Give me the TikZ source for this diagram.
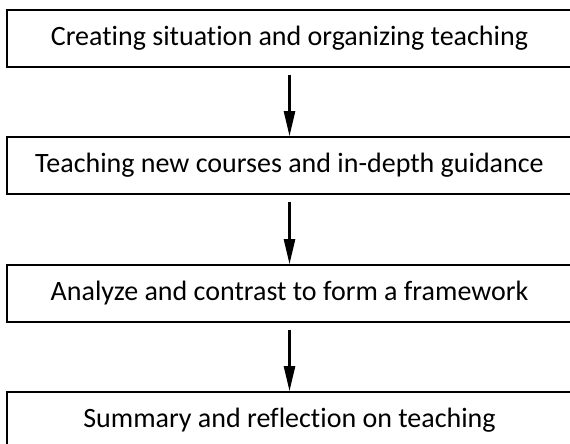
\documentclass[tikz,border=0pt]{standalone}
\usepackage{fontspec}
\setmainfont[Ligatures=NoCommon]{Carlito}
\usetikzlibrary{arrows.meta,positioning}

\begin{document}
\begin{tikzpicture}[x=1pt,y=-1pt,
  stepbox/.style={rectangle,draw=black,line width=1.6pt,minimum width=565pt,
                  minimum height=57pt,inner sep=0pt,text centered,
                  font=\fontsize{28}{32}\selectfont},
  flow/.style={-{Triangle[length=25pt,width=11pt]},line width=2.4pt,shorten <=7pt}]

  \useasboundingbox (0,0) rectangle (570,444);

  % Etapes
  \node[stepbox] (sit)  at (289.5,38.5)  {Creating situation and organizing teaching};
  \node[stepbox] (new)  at (289.5,165.5) {Teaching new courses and in-depth guidance};
  \node[stepbox] (ana)  at (289.5,293.5) {Analyze and contrast to form a framework};
  \node[stepbox] (sum)  at (289.5,420.5) {Summary and reflection on teaching};

  % Flèches
  \draw[flow] (sit.south)--(new.north);
  \draw[flow] (new.south)--(ana.north);
  \draw[flow] (ana.south)--(sum.north);
\end{tikzpicture}
\end{document}
